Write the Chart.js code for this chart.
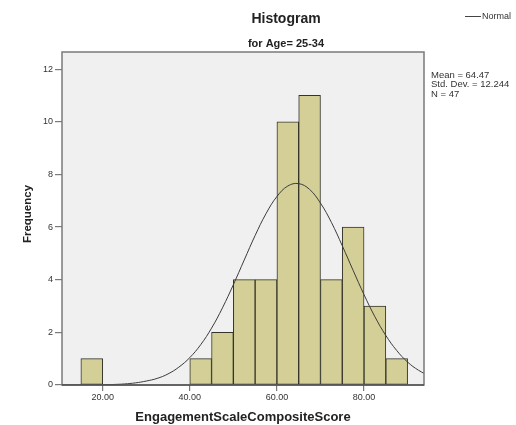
<!DOCTYPE html>
<html>
<head>
<meta charset="utf-8">
<script src="https://cdn.jsdelivr.net/npm/chart.js@4/dist/chart.umd.min.js"></script>
<style>
  html, body { margin: 0; padding: 0; background: #fff; }
  #wrap { width: 516px; height: 425px; position: relative; }
</style>
</head>
<body>
<div id="wrap"><canvas id="histChart" width="516" height="425"></canvas></div>
<script>
// histogram bins (width 5), centres and counts
const binCenters = [17.5, 42.5, 47.5, 52.5, 57.5, 62.5, 67.5, 72.5, 77.5, 82.5, 87.5];
const frequencies = [1, 1, 2, 4, 4, 10, 11, 4, 6, 3, 1];

// normal curve
const curveX = [10, 12.5, 15, 17.5, 20, 22.5, 25, 27.5, 30, 32.5, 35, 37.5, 40, 42.5, 45, 47.5, 50, 52.5, 55, 57.5,
                60, 62.5, 65, 67.5, 70, 72.5, 75, 77.5, 80, 82.5, 85, 87.5, 90, 92.5, 95];
const curveY = [0.00, 0.00, 0.00, 0.00, 0.01, 0.02, 0.04, 0.08, 0.15, 0.25, 0.42, 0.68, 1.04, 1.53, 2.16, 2.93, 3.81, 4.75, 5.68, 6.51,
                7.16, 7.56, 7.65, 7.43, 6.91, 6.18, 5.29, 4.35, 3.43, 2.59, 1.88, 1.31, 0.87, 0.56, 0.34];

const xTickValues = [20, 40, 60, 80];
const yTickValues = [0, 2, 4, 6, 8, 10, 12];
const statLines = ['Mean = 64.47', 'Std. Dev. = 12.244', 'N = 47'];

const FONT = 'Arial, "Liberation Sans", sans-serif';

const decorPlugin = {
  id: 'decor',
  beforeDraw(chart) {
    const { ctx, chartArea: a } = chart;
    ctx.save();
    ctx.fillStyle = '#f0f0f0';
    ctx.fillRect(a.left, a.top, a.right - a.left, a.bottom - a.top);
    ctx.restore();
  },
  afterDraw(chart) {
    const { ctx, chartArea: a } = chart;
    ctx.save();
    // frame
    ctx.strokeStyle = '#7a7a7a';
    ctx.lineWidth = 1.5;
    ctx.strokeRect(a.left, a.top, a.right - a.left, a.bottom - a.top);
    ctx.strokeStyle = '#333';
    ctx.lineWidth = 1.2;
    ctx.beginPath();
    ctx.moveTo(a.left, a.bottom);
    ctx.lineTo(a.right, a.bottom);
    ctx.stroke();

    ctx.fillStyle = '#222';
    ctx.textAlign = 'center';
    ctx.textBaseline = 'middle';
    ctx.font = 'bold 14px ' + FONT;
    ctx.fillText('Histogram', 286, 19);
    ctx.font = 'bold 11px ' + FONT;
    ctx.fillText('for Age= 25-34', 286, 44);

    ctx.font = 'bold 13px ' + FONT;
    ctx.fillText('EngagementScaleCompositeScore', (a.left + a.right) / 2, 417);

    ctx.save();
    ctx.translate(28, 214);
    ctx.rotate(-Math.PI / 2);
    ctx.font = 'bold 11.5px ' + FONT;
    ctx.fillText('Frequency', 0, 0);
    ctx.restore();

    // legend
    ctx.strokeStyle = '#444';
    ctx.lineWidth = 1;
    ctx.beginPath();
    ctx.moveTo(465, 16.5);
    ctx.lineTo(481, 16.5);
    ctx.stroke();
    ctx.textAlign = 'left';
    ctx.font = '9px ' + FONT;
    ctx.fillStyle = '#333';
    ctx.fillText('Normal', 482, 16.5);

    // stats
    ctx.font = '9.5px ' + FONT;
    statLines.forEach((t, i) => ctx.fillText(t, 431, 75.5 + i * 9.3));
    ctx.restore();
  }
};

const ctx = document.getElementById('histChart').getContext('2d');
new Chart(ctx, {
  type: 'bar',
  data: {
    datasets: [
      {
        type: 'line',
        label: 'Normal',
        data: curveX.map((x, i) => ({ x: x, y: curveY[i] })),
        borderColor: '#3c3c3c',
        borderWidth: 1,
        pointRadius: 0,
        tension: 0.4,
        fill: false,
        order: 0
      },
      {
        type: 'bar',
        label: 'Frequency',
        data: binCenters.map((x, i) => ({ x: x, y: frequencies[i] })),
        backgroundColor: '#d3cf96',
        borderColor: '#34342a',
        borderWidth: 1,
        borderSkipped: false,
        barPercentage: 1,
        categoryPercentage: 1,
        order: 1
      }
    ]
  },
  options: {
    responsive: false,
    animation: false,
    layout: { padding: { left: 0, top: 52, right: 92, bottom: 0 } },
    plugins: {
      legend: { display: false },
      tooltip: { enabled: false },
      title: { display: false }
    },
    scales: {
      x: {
        type: 'linear',
        min: 10.67,
        max: 93.76,
        offset: false,
        afterFit: s => { s.height = 40; },
        afterBuildTicks: s => { s.ticks = xTickValues.map(v => ({ value: v })); },
        grid: { offset: false, drawOnChartArea: false, drawTicks: true, tickLength: 6, color: '#7a7a7a', lineWidth: 1.2 },
        border: { display: false },
        ticks: {
          padding: 1,
          color: '#333',
          font: { family: FONT, size: 9 },
          maxRotation: 0,
          autoSkip: false,
          callback: v => v.toFixed(2)
        }
      },
      y: {
        min: 0,
        max: 12.65,
        afterFit: s => { s.width = 62; },
        afterBuildTicks: s => { s.ticks = yTickValues.map(v => ({ value: v })); },
        grid: { drawOnChartArea: false, drawTicks: true, tickLength: 7, color: '#7a7a7a', lineWidth: 1.2 },
        border: { display: false },
        ticks: {
          padding: 2,
          color: '#333',
          font: { family: FONT, size: 9 },
          autoSkip: false
        }
      }
    }
  },
  plugins: [decorPlugin]
});
</script>
</body>
</html>
